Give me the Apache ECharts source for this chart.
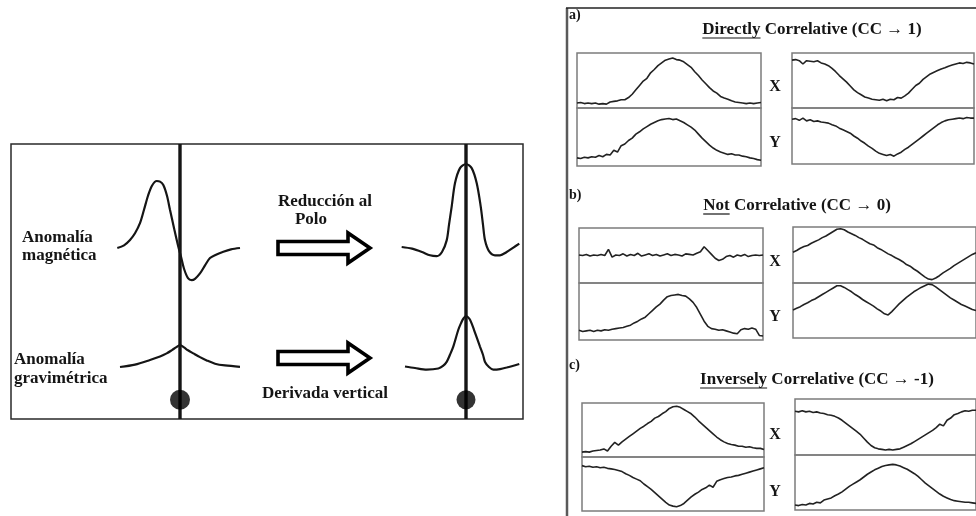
<!DOCTYPE html>
<html>
<head>
<meta charset="utf-8">
<script src="https://cdn.jsdelivr.net/npm/echarts@6.0.0/dist/echarts.min.js"></script>
<style>
  html, body { margin: 0; padding: 0; background: #fff; }
  #chart { width: 976px; height: 516px; }
</style>
</head>
<body>
<div id="chart"></div>
<script>
// ---------- Profiles over a buried body (distance from source, anomaly in % of peak) ----------
const magneticAnomaly = [[-1.045,0],[-0.933,4],[-0.833,12],[-0.75,22],[-0.667,37],[-0.6,57],[-0.533,78],
  [-0.467,93],[-0.388,100],[-0.333,99],[-0.278,94],[-0.217,78],[-0.167,57],[-0.1,30],[-0.028,2],
  [0.017,-13],[0.067,-31],[0.133,-45],[0.195,-48],[0.25,-46],[0.333,-38],[0.417,-26],[0.5,-15],
  [0.6,-10],[0.722,-5.5],[0.85,-2],[1.0,0]];
const gravityAnomaly = [[-1.0,0],[-0.75,11],[-0.5,32],[-0.333,48],[-0.222,62],[-0.133,77],[-0.067,89],
  [0,100],[0.067,89],[0.133,76],[0.222,62],[0.333,45],[0.445,30],[0.583,15],[0.75,7],[1.0,1]];
const reducedToPole = [[-1.072,0],[-0.9,-2],[-0.733,-6],[-0.6,-10],[-0.488,-11],[-0.4,-6],[-0.322,8],
  [-0.283,27],[-0.238,49],[-0.183,77],[-0.1,95],[0,100],[0.095,95],[0.178,77],[0.245,49],[0.283,27],
  [0.317,8],[0.383,-5],[0.483,-10],[0.567,-10],[0.678,-6],[0.783,-1],[0.888,4]];
const verticalDerivative = [[-1.017,1],[-0.85,-2],[-0.655,-5],[-0.462,-3],[-0.383,2],[-0.322,10],
  [-0.267,24],[-0.212,40],[-0.128,73],[-0.083,86],[-0.045,95],[0,100],[0.055,95],[0.092,86],[0.133,73],
  [0.233,40],[0.283,24],[0.317,10],[0.383,0],[0.455,-5],[0.567,-4],[0.678,-1],[0.888,6]];
const sourcePosition = 0;      // horizontal position of the body
const sourceDepth = 93;        // depth of the body, % of section height

// ---------- Paired signals (X, Y) for the three correlation cases ----------
const aXLeft  = [9,10,8,9,8,9,7,8,7,11,12,13,15,15,19,25,33,41,49,54,64,70,77,82,87,89,91,88,87,84,79,74,66,59,51,44,37,31,27,21,18,16,13,11,10,9,8,9,8,9,10];
const aYLeft  = [14,13,15,14,16,15,18,16,20,19,27,24,35,38,44,48,55,59,64,68,72,75,78,80,81,82,80,81,78,75,71,67,62,55,48,42,36,31,27,24,22,20,21,19,19,17,16,14,13,11,10];
const aXRight = [87,88,86,80,86,85,84,86,82,80,77,72,66,59,53,47,40,33,28,24,20,18,16,15,14,16,13,16,15,19,18,22,27,34,41,45,52,57,62,65,68,71,73,76,78,80,82,81,83,82,80];
const aYRight = [80,81,78,82,77,79,76,77,75,74,73,70,68,64,61,58,55,50,46,41,37,32,28,23,19,17,15,17,14,18,21,26,30,35,40,45,50,55,60,65,70,74,77,79,80,81,82,81,83,82,82];
const bXLeft  = [51,50,52,49,51,50,52,50,61,47,51,50,53,49,52,50,54,49,51,53,50,52,49,51,53,50,52,51,49,53,52,51,54,57,66,59,52,45,41,43,48,50,47,51,49,52,48,50,51,50,51];
const bYLeft  = [17,15,16,17,15,17,16,18,17,19,20,21,22,24,26,30,33,37,40,46,52,58,63,70,76,78,79,80,78,77,72,66,57,45,33,24,20,19,17,18,16,14,12,11,18,20,19,21,19,8,7];
const bXRight = [55,58,62,65,67,71,74,77,81,84,88,92,96,97,95,91,88,85,81,78,74,70,68,63,60,56,52,49,45,42,38,33,30,25,21,16,11,7,6,9,13,18,22,26,31,35,39,43,47,51,54];
const bYRight = [51,54,57,61,64,68,71,75,79,83,87,91,95,95,92,88,84,79,75,70,66,62,58,53,49,44,42,48,55,62,68,74,79,84,88,92,95,98,97,93,88,83,78,73,69,65,61,58,55,52,50];
const cXLeft  = [9,10,9,11,12,13,15,11,20,27,22,28,33,38,43,48,53,57,62,66,72,75,80,84,90,93,94,92,88,84,80,74,67,61,55,49,43,37,32,28,25,23,22,20,20,18,19,17,16,16,14];
const cYLeft  = [84,82,83,81,82,80,81,79,78,77,75,73,69,66,62,59,56,50,45,40,34,28,22,16,11,9,8,10,14,20,26,31,35,40,43,48,44,55,58,60,62,63,65,66,68,70,72,74,76,78,80];
const cXRight = [78,77,79,77,78,76,77,75,74,72,71,69,66,62,57,52,47,42,37,30,23,17,13,11,10,9,10,9,10,11,14,17,20,24,28,32,36,40,44,49,55,52,62,66,72,74,77,79,78,80,80];
const cYRight = [9,8,10,9,12,11,14,13,18,20,22,26,29,33,38,43,47,51,55,60,65,69,73,76,79,81,82,83,82,80,77,74,70,66,61,55,49,44,39,34,29,25,22,19,17,16,15,14,14,13,12];

const caseTitles = [
  { under: 'Directly',  rest: ' Correlative (CC \u2192 1)' },
  { under: 'Not',       rest: ' Correlative (CC \u2192 0)' },
  { under: 'Inversely', rest: ' Correlative (CC \u2192 -1)' }
];
const caseTags = ['a)', 'b)', 'c)'];

// ---------- Layout ----------
const SERIF = '"Liberation Serif", "Times New Roman", serif';
const INK = '#151515';
const grids = [], xAxes = [], yAxes = [], series = [], graphics = [];

function addGrid(rect, xr, yr, opts) {
  opts = opts || {};
  const i = grids.length;
  grids.push({
    left: rect[0], top: rect[1], width: rect[2], height: rect[3],
    show: !!opts.border, borderColor: '#7c7c7c', borderWidth: 1.5,
    backgroundColor: 'transparent', containLabel: false
  });
  xAxes.push({ type: 'value', gridIndex: i, min: xr[0], max: xr[1], show: false });
  yAxes.push({ type: 'value', gridIndex: i, min: yr[0], max: yr[1], show: false, inverse: !!opts.inverse });
  return i;
}
function addLine(g, data, style, smooth) {
  series.push({
    type: 'line', xAxisIndex: g, yAxisIndex: g, data: data, symbol: 'none',
    smooth: smooth || false, clip: false, silent: true, animation: false,
    lineStyle: style
  });
}

// Left figure: anomaly profiles and transforms
const profRange = [-1.1, 1.1];
const traceStyle = { color: INK, width: 2.2 };
const gMag  = addGrid([114, 174.3, 132, 113.9], profRange, [-60, 110]);
const gGrav = addGrid([114, 340.6, 132, 30.8],  profRange, [-20, 120]);
const gRtp  = addGrid([400, 155.7, 132, 107.9], profRange, [-20, 110]);
const gDv   = addGrid([400, 310.9, 132, 66.3],  profRange, [-20, 110]);
addLine(gMag, magneticAnomaly, traceStyle, 0.3);
addLine(gGrav, gravityAnomaly, traceStyle, 0.3);
addLine(gRtp, reducedToPole, traceStyle, 0.3);
addLine(gDv, verticalDerivative, traceStyle, 0.3);

[[114, 20], [400, 19]].forEach(function (p) {
  const g = addGrid([p[0], 144, 132, 275], profRange, [0, 100], { inverse: true });
  addLine(g, [[sourcePosition, 0], [sourcePosition, 100]], { color: INK, width: 3.4 });
  series.push({
    type: 'scatter', xAxisIndex: g, yAxisIndex: g, data: [[sourcePosition, sourceDepth]],
    symbolSize: p[1], itemStyle: { color: '#000' }, silent: true, animation: false, z: 3
  });
});

// Right figure: six boxes, each split into X (top) and Y (bottom)
const boxes = [
  { x: 577, w: 184, top: 53,  mid: 108, bot: 166, xs: aXLeft,  ys: aYLeft },
  { x: 792, w: 182, top: 53,  mid: 108, bot: 164, xs: aXRight, ys: aYRight },
  { x: 579, w: 184, top: 228, mid: 283, bot: 340, xs: bXLeft,  ys: bYLeft },
  { x: 793, w: 184, top: 227, mid: 283, bot: 338, xs: bXRight, ys: bYRight },
  { x: 582, w: 182, top: 403, mid: 457, bot: 511, xs: cXLeft,  ys: cYLeft },
  { x: 795, w: 182, top: 399, mid: 455, bot: 510, xs: cXRight, ys: cYRight }
];
const sigStyle = { color: '#222', width: 1.6 };
boxes.forEach(function (b) {
  const n = b.xs.length - 1;
  const gx = addGrid([b.x, b.top, b.w, b.mid - b.top], [0, n], [0, 100], { border: true });
  const gy = addGrid([b.x, b.mid, b.w, b.bot - b.mid], [0, n], [0, 100], { border: true });
  addLine(gx, b.xs.map(function (v, i) { return [i, v]; }), sigStyle);
  addLine(gy, b.ys.map(function (v, i) { return [i, v]; }), sigStyle);
});

// ---------- Decorations and text ----------
function txt(s, x, y, size, align, extra) {
  const st = { text: s, x: x, y: y, fill: INK, fontFamily: SERIF, fontWeight: 'bold',
               fontSize: size, align: align || 'left', verticalAlign: 'middle' };
  graphics.push(Object.assign({ type: 'text', silent: true, z: 10, style: st }, extra || {}));
}
function seg(x1, y1, x2, y2, color, w) {
  graphics.push({ type: 'line', silent: true, z: 5,
    shape: { x1: x1, y1: y1, x2: x2, y2: y2 }, style: { stroke: color, lineWidth: w } });
}
function arrow(x0, yc) {
  graphics.push({ type: 'polygon', silent: true, z: 5,
    shape: { points: [[x0, yc - 6.5], [x0 + 70, yc - 6.5], [x0 + 70, yc - 15], [x0 + 92, yc],
                      [x0 + 70, yc + 15], [x0 + 70, yc + 6.5], [x0, yc + 6.5]] },
    style: { fill: '#fff', stroke: '#000', lineWidth: 3.6, lineJoin: 'miter' } });
}

// left figure frame, labels and arrows
graphics.push({ type: 'rect', silent: true, z: 1,
  shape: { x: 11, y: 144, width: 512, height: 275 },
  style: { fill: 'none', stroke: '#2a2a2a', lineWidth: 1.5 } });
txt('Anomalía', 22, 238, 17);
txt('magnética', 22, 256, 17);
txt('Anomalía', 14, 360, 17);
txt('gravimétrica', 14, 379, 17);
txt('Reducción al', 325, 202, 17, 'center');
txt('Polo', 311, 220, 17, 'center');
txt('Derivada vertical', 325, 394, 17, 'center');
arrow(278, 248);
arrow(278, 358);

// right figure frame
seg(567, 8, 567, 516, '#5a5a5a', 2.5);
seg(566, 8, 976, 8, '#222', 1.5);

// case tags, titles with underlined keyword, X/Y labels
const measure = document.createElement('canvas').getContext('2d');
function width(s, size) { measure.font = 'bold ' + size + 'px ' + SERIF; return measure.measureText(s).width; }
const titleCenters = [[812, 30], [797, 206], [817, 380]];
const tagY = [15, 195, 365];
caseTitles.forEach(function (t, k) {
  const size = 17;
  const full = t.under + t.rest;
  const x0 = titleCenters[k][0] - width(full, size) / 2;
  const y = titleCenters[k][1];
  txt(full, x0, y, size, 'left');
  seg(x0, y + 8, x0 + width(t.under, size), y + 8, INK, 1.2);
  txt(caseTags[k], 569, tagY[k], 14, 'left');
});
[[87, 143], [262, 317], [435, 492]].forEach(function (p) {
  txt('X', 775, p[0], 16, 'center');
  txt('Y', 775, p[1], 16, 'center');
});

const chart = echarts.init(document.getElementById('chart'), null, { renderer: 'canvas' });
chart.setOption({
  backgroundColor: '#fff',
  animation: false,
  grid: grids,
  xAxis: xAxes,
  yAxis: yAxes,
  series: series,
  graphic: graphics
});
</script>
</body>
</html>
